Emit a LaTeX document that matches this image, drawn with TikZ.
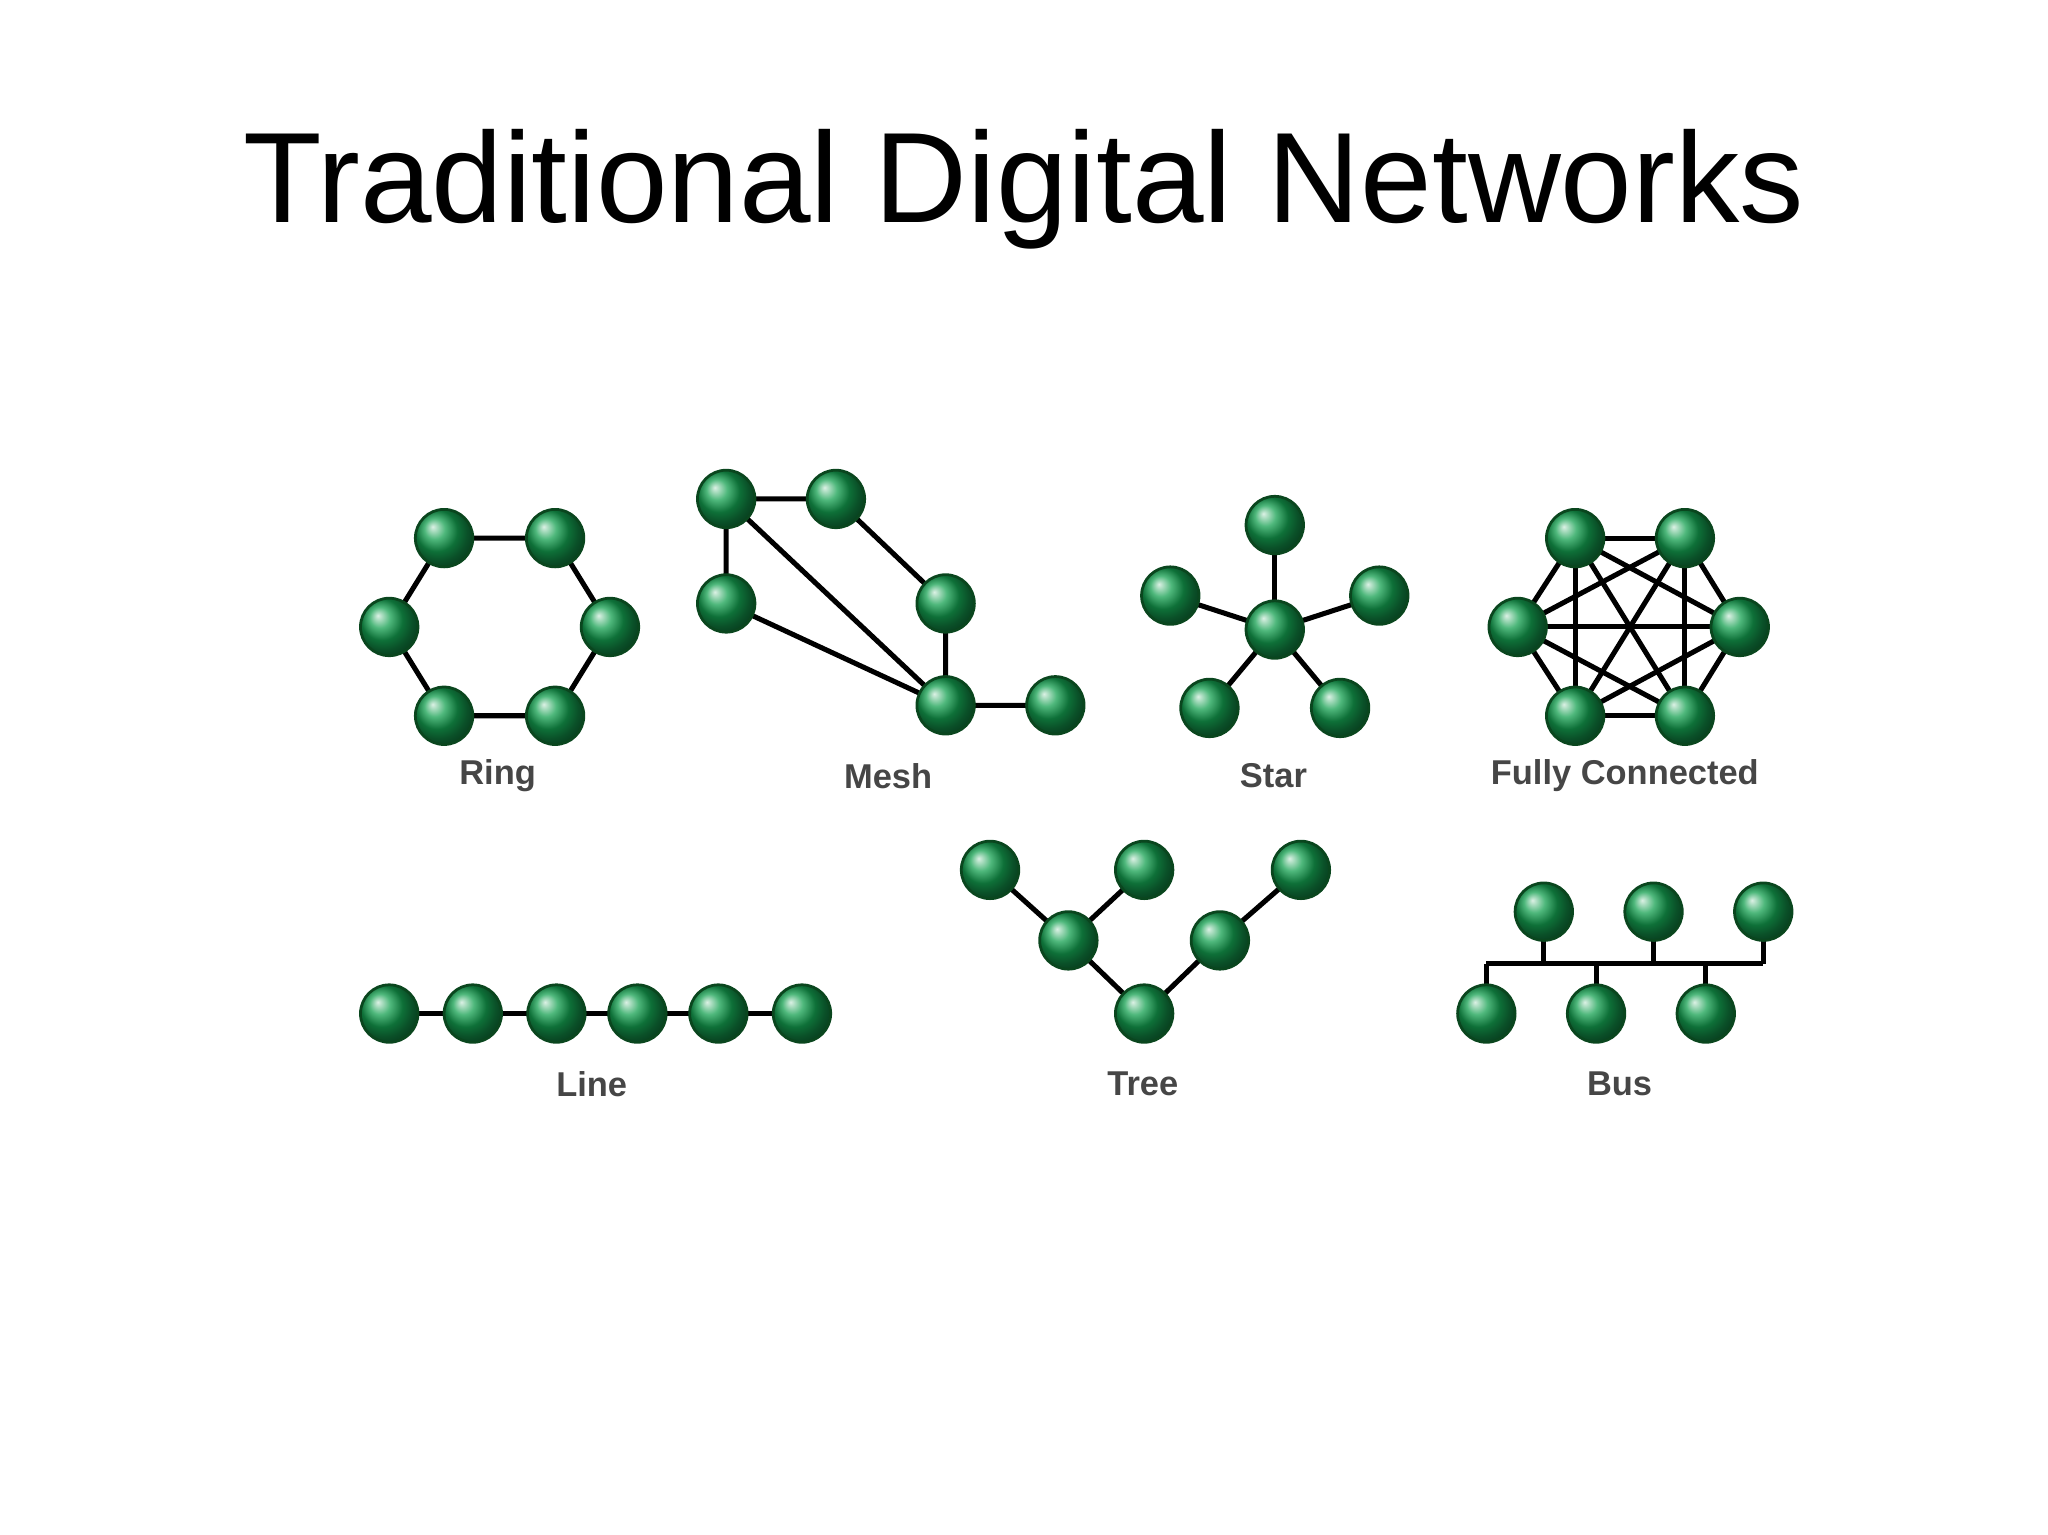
\documentclass[tikz,border=0pt]{standalone}
\usepackage{fontspec}
\setmainfont{Liberation Sans}
\begin{document}
\begin{tikzpicture}[x=0.01cm,y=-0.01cm,
  nd/.style={circle,minimum size=0.44cm,inner sep=0,draw={rgb,255:red,10;green,70;blue,30},line width=0.6pt,shading=ball,ball color={rgb,255:red,20;green,160;blue,80}},
  ln/.style={line width=1.1pt,black},
  lab/.style={font=\bfseries\fontsize{7.5pt}{9pt}\selectfont,text={rgb,255:red,70;green,70;blue,70}}]
\useasboundingbox (0,0) rectangle (1568,1175);
\node[font=\fontsize{28pt}{32pt}\selectfont] (title) at (784,145) {Traditional Digital Networks};
% Ring
\foreach \n/\x/\y in {r1/340/412,r2/425/412,r3/298/480,r4/467/480,r5/340/548,r6/425/548}{\coordinate (\n) at (\x,\y);}
\draw[ln] (r1)--(r2)--(r4)--(r6)--(r5)--(r3)--cycle;
\foreach \n in {r1,r2,r3,r4,r5,r6}{\node[nd] at (\n) {};}
\node[lab] (lring) at (381,594) {Ring};
% Mesh
\foreach \n/\x/\y in {m1/556/382,m2/640/382,m3/556/462,m4/724/462,m5/724/540,m6/808/540}{\coordinate (\n) at (\x,\y);}
\draw[ln] (m1)--(m2) (m1)--(m3) (m1)--(m5) (m2)--(m4) (m4)--(m5) (m3)--(m5) (m5)--(m6);
\foreach \n in {m1,m2,m3,m4,m5,m6}{\node[nd] at (\n) {};}
\node[lab] (lmesh) at (680,594) {Mesh};
% Star
\foreach \n/\x/\y in {s0/976/482,s1/976/402,s2/896/456,s3/1056/456,s4/926/542,s5/1026/542}{\coordinate (\n) at (\x,\y);}
\foreach \n in {s1,s2,s3,s4,s5}{\draw[ln] (s0)--(\n);}
\foreach \n in {s0,s1,s2,s3,s4,s5}{\node[nd] at (\n) {};}
\node[lab] (lstar) at (975,594) {Star};
% Fully connected
\foreach \n/\x/\y in {f1/1206/412,f2/1290/412,f3/1162/480,f4/1332/480,f5/1206/548,f6/1290/548}{\coordinate (\n) at (\x,\y);}
\foreach \a/\b in {f1/f2,f1/f3,f1/f4,f1/f5,f1/f6,f2/f3,f2/f4,f2/f5,f2/f6,f3/f4,f3/f5,f3/f6,f4/f5,f4/f6,f5/f6}{\draw[ln] (\a)--(\b);}
\foreach \n in {f1,f2,f3,f4,f5,f6}{\node[nd] at (\n) {};}
\node[lab] (lfull) at (1244,594) {Fully Connected};
% Line
\foreach \n/\x in {l1/298,l2/362,l3/426,l4/488,l5/550,l6/614}{\coordinate (\n) at (\x,776);}
\draw[ln] (l1)--(l6);
\foreach \n in {l1,l2,l3,l4,l5,l6}{\node[nd] at (\n) {};}
\node[lab] (lline) at (453,830) {Line};
% Tree
\foreach \n/\x/\y in {t1/758/666,t2/876/666,t3/996/666,t4/818/720,t5/934/720,t6/876/776}{\coordinate (\n) at (\x,\y);}
\draw[ln] (t1)--(t4)--(t2) (t4)--(t6)--(t5)--(t3);
\foreach \n in {t1,t2,t3,t4,t5,t6}{\node[nd] at (\n) {};}
\node[lab] (ltree) at (875,830) {Tree};
% Bus
\foreach \n/\x/\y in {b1/1182/698,b2/1266/698,b3/1350/698,b4/1138/776,b5/1222/776,b6/1306/776}{\coordinate (\n) at (\x,\y);}
\coordinate (bl) at (1138,738); \coordinate (br) at (1350,738);
\draw[ln] (bl)--(br);
\foreach \n in {b1,b2,b3,b4,b5,b6}{\draw[ln] (\n)--(\n|-bl);}
\foreach \n in {b1,b2,b3,b4,b5,b6}{\node[nd] at (\n) {};}
\node[lab] (lbus) at (1240,830) {Bus};
\end{tikzpicture}
\end{document}
